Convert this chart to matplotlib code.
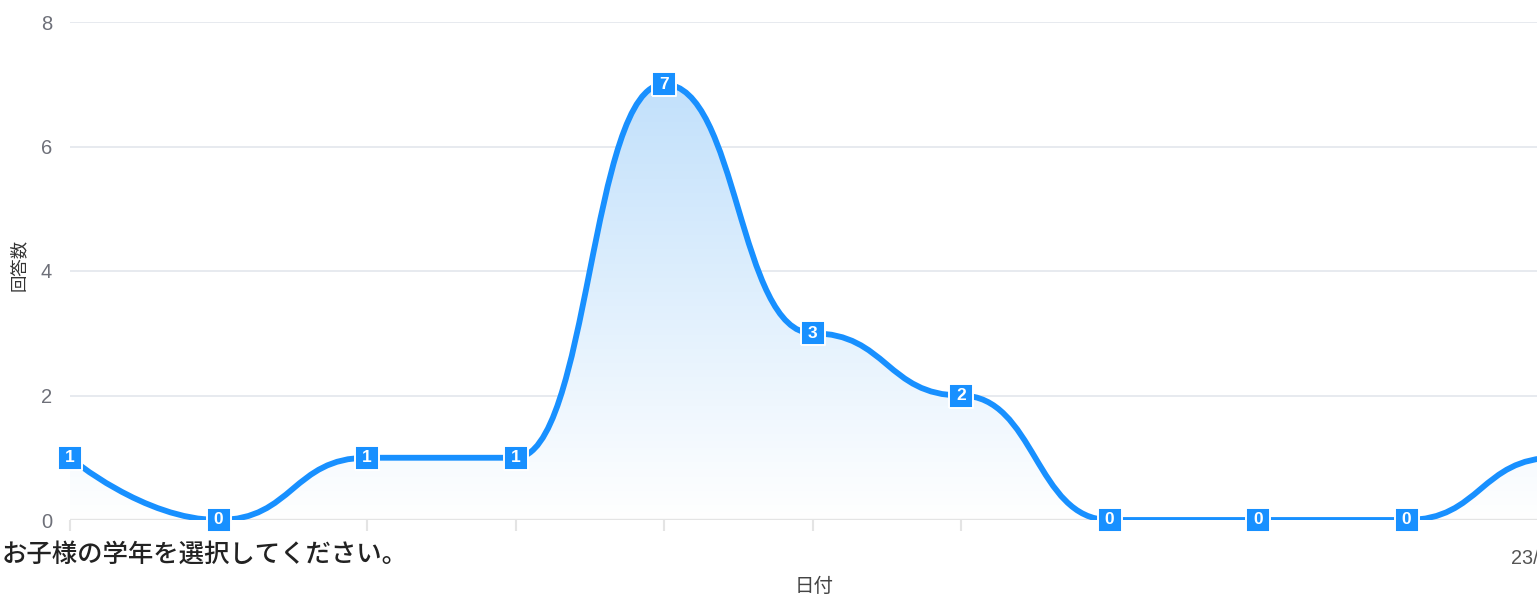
import numpy as np
import matplotlib
matplotlib.use("Agg")
import matplotlib.pyplot as plt
from matplotlib.path import Path
from matplotlib.patches import PathPatch

plt.rcParams['font.family'] = ['Noto Sans CJK JP', 'DejaVu Sans']

# ---- data ----
categories = list(range(12))
values = [1, 0, 1, 1, 7, 3, 2, 0, 0, 0, 1, 1]
tick_labels = [''] * 10 + ['23/1/2023', '']
y_ticks = [0, 2, 4, 6, 8]
title_text = 'お子様の学年を選択してください。'
x_name = '日付'
y_name = '回答数'

LINE = '#1890ff'
W, H = 1537, 601
fig = plt.figure(figsize=(W / 100, H / 100), dpi=100)
left_px, step_px, top_px, bot_px = 70, 148.5, 22, 520
right_px = left_px + step_px * (len(categories) - 1)
ax = fig.add_axes([left_px / W, 1 - bot_px / H, (right_px - left_px) / W, (bot_px - top_px) / H])
ax.set_xlim(0, len(categories) - 1)
ax.set_ylim(0, 8)


def smooth_path_x(xs, ys, smooth=0.5):
    """Bezier smoothing monotone in x: horizontal tangents at every point."""
    verts = [(xs[0], ys[0])]
    codes = [Path.MOVETO]
    n = len(xs)
    cp0 = (xs[0], ys[0])
    for i in range(1, n):
        x, y = xs[i], ys[i]
        px = xs[i - 1]
        if i == n - 1:
            cp1 = (x, y)
            ncp0 = (x, y)
        else:
            nx = xs[i + 1]
            cp1 = (x - abs(x - px) * smooth, y)
            ncp0 = (x + abs(nx - x) * smooth, y)
        verts += [cp0, cp1, (x, y)]
        codes += [Path.CURVE4] * 3
        cp0 = ncp0
    return verts, codes


verts, codes = smooth_path_x(categories, values)

# gradient area
area_verts = verts + [(categories[-1], 0), (categories[0], 0), verts[0]]
area_codes = codes + [Path.LINETO, Path.LINETO, Path.CLOSEPOLY]
patch = PathPatch(Path(area_verts, area_codes), fc='none', ec='none')
ax.add_patch(patch)
top_rgb = np.array([0.76, 0.88, 0.985])
grad = np.linspace(0, 1, 256)[:, None]
img = np.ones((256, 2, 4))
for c in range(3):
    img[:, :, c] = (1 - grad) * top_rgb[c] + grad * 1.0
ax.imshow(img, extent=[0, categories[-1], 0, max(values)], origin='upper',
          aspect='auto', zorder=1, interpolation='bilinear').set_clip_path(patch)

# grid lines
for yt in y_ticks[1:]:
    ax.axhline(yt, color='#e3e6ec', lw=1.2, zorder=0)
ax.axhline(0, color='#e4e4e4', lw=2.4, zorder=1.5)

# line
ax.add_patch(PathPatch(Path(verts, codes), fc='none', ec=LINE, lw=4.2, zorder=3,
                       capstyle='round', joinstyle='round'))

# label boxes
rect = [(-1.05, -1), (1.05, -1), (1.05, 1), (-1.05, 1), (-1.05, -1)]
ax.plot(categories, values, linestyle='none', marker=rect, ms=17.5, mfc=LINE,
        mec='white', mew=1.4, zorder=4, clip_on=False)
for x, v in zip(categories, values):
    ax.text(x, v, str(v), ha='center', va='center', color='white', fontsize=12.5,
            fontweight='bold', family='Liberation Sans', zorder=5, clip_on=False)

# axes styling
for s in ax.spines.values():
    s.set_visible(False)
ax.set_yticks(y_ticks)
ax.set_yticklabels([str(t) for t in y_ticks], family='Liberation Sans')
ax.tick_params(axis='y', length=0, pad=13, labelsize=14.5, labelcolor='#6e7079')
ax.set_xticks(categories)
ax.set_xticklabels(tick_labels, family='Liberation Sans')
ax.tick_params(axis='x', direction='out', length=8, width=1.5, color='#e4e4e4',
               labelsize=14.3, labelcolor='#555555', pad=13)

fig.text(18.5 / W, 1 - 265 / H, y_name, rotation=90, ha='center', va='center',
         fontsize=12.5, color='#333333')
fig.text(2 / W, 1 - 555 / H, title_text, ha='left', va='center', fontsize=18.3,
         color='#222222', fontweight='medium')
fig.text(814 / W, 1 - 576 / H, x_name, ha='center', va='top', fontsize=14,
         color='#444444')

fig.savefig('out.png', dpi=100)
